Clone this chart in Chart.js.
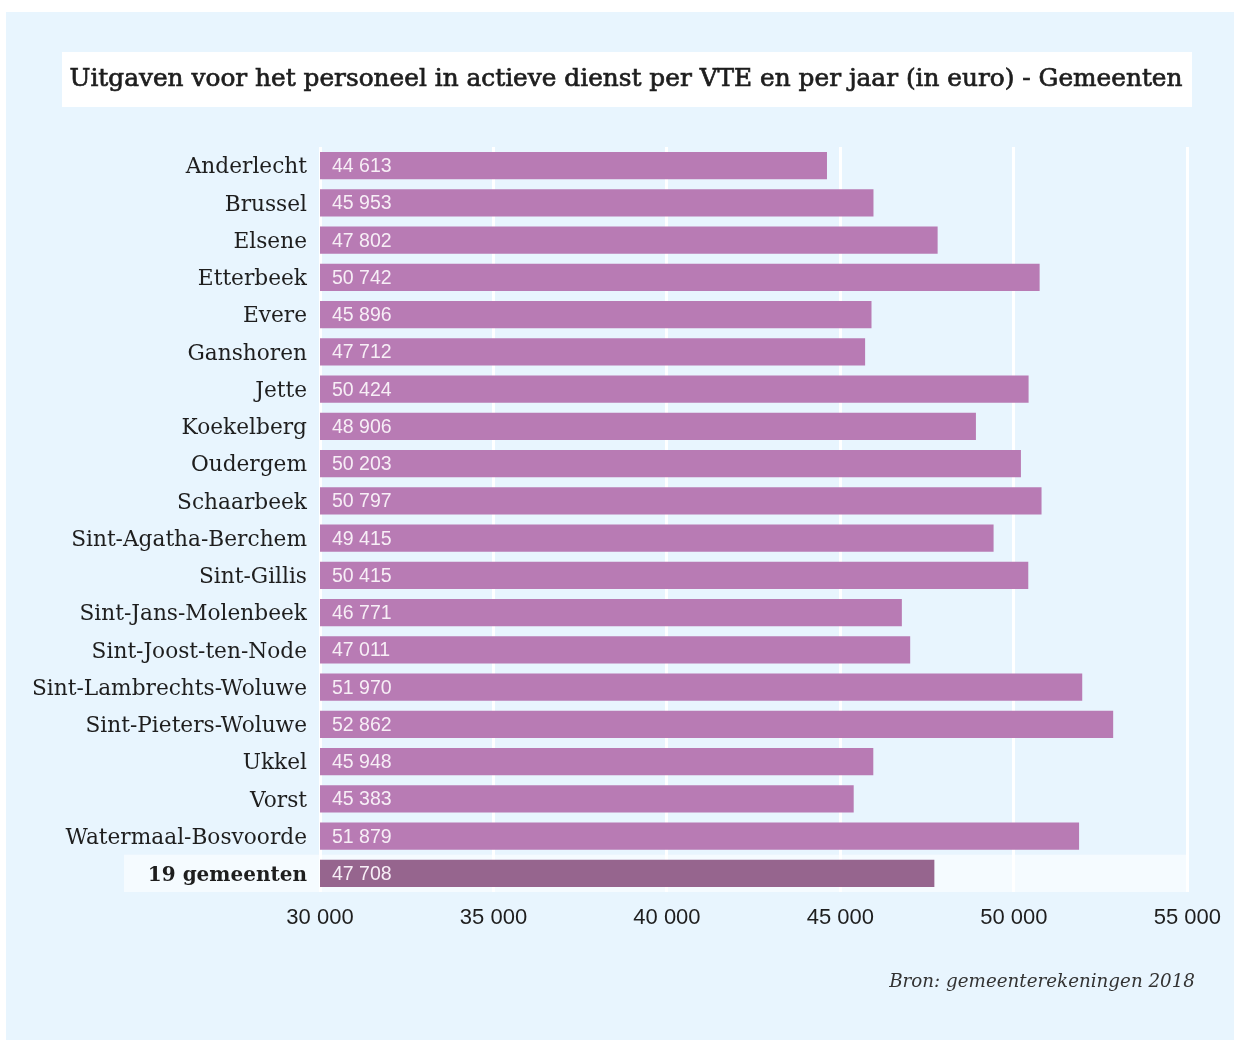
<!DOCTYPE html>
<html>
<head>
<meta charset="utf-8">
<script src="https://cdn.jsdelivr.net/npm/chart.js@4"></script>
<style>
  html, body { margin: 0; padding: 0; background: #ffffff; }
  canvas { display: block; }
</style>
</head>
<body>
<canvas id="chart" width="1234" height="1040"></canvas>
<script>
// Data
const categories = [
  "Anderlecht", "Brussel", "Elsene", "Etterbeek", "Evere", "Ganshoren",
  "Jette", "Koekelberg", "Oudergem", "Schaarbeek", "Sint-Agatha-Berchem",
  "Sint-Gillis", "Sint-Jans-Molenbeek", "Sint-Joost-ten-Node",
  "Sint-Lambrechts-Woluwe", "Sint-Pieters-Woluwe", "Ukkel", "Vorst",
  "Watermaal-Bosvoorde", "19 gemeenten"
];
// bar lengths as drawn in the picture (Ganshoren's bar is shorter than its label)
const values = [
  44613, 45953, 47802, 50742, 45896, 45712, 50424, 48906, 50203, 50797,
  49415, 50415, 46771, 47011, 51970, 52862, 45948, 45383, 51879, 47708
];
// numbers printed inside the bars
const printedValues = [
  "44 613", "45 953", "47 802", "50 742", "45 896", "47 712", "50 424",
  "48 906", "50 203", "50 797", "49 415", "50 415", "46 771", "47 011",
  "51 970", "52 862", "45 948", "45 383", "51 879", "47 708"
];
const xTicks = [30000, 35000, 40000, 45000, 50000, 55000];

const titleText = "Uitgaven voor het personeel in actieve dienst per VTE en per jaar (in euro) - Gemeenten";
const sourceText = "Bron: gemeenterekeningen 2018";

const BAR = "#b87bb4";
const BAR_TOTAL = "#96658e";
const PANEL = "#e8f5fe";
const TOTAL_ROW = "#f5fbff";
const TEXT = "#1e1e1e";

function fmt(v) {
  return String(v).replace(/\B(?=(\d{3})+(?!\d))/g, " ");
}

// Background, title box, highlighted total row, source and bar labels
const decorPlugin = {
  id: "decor",
  beforeDraw(chart) {
    const ctx = chart.ctx;
    const y = chart.scales.y;
    ctx.save();
    ctx.fillStyle = "#ffffff";
    ctx.fillRect(0, 0, chart.width, chart.height);
    ctx.fillStyle = PANEL;
    ctx.fillRect(6, 12, chart.width - 6, chart.height - 12);

    // title box
    ctx.fillStyle = "#ffffff";
    ctx.fillRect(62, 52, 1130, 55);
    ctx.fillStyle = TEXT;
    ctx.strokeStyle = TEXT;
    ctx.lineWidth = 0.7;
    ctx.font = '24.8px "DejaVu Serif"';
    ctx.textAlign = "center";
    ctx.textBaseline = "middle";
    ctx.fillText(titleText, 626, 80);
    ctx.strokeText(titleText, 626, 80);

    // total row highlight
    const last = categories.length - 1;
    const rowH = (chart.chartArea.bottom - chart.chartArea.top) / categories.length;
    const cy = y.getPixelForValue(last);
    ctx.fillStyle = TOTAL_ROW;
    ctx.fillRect(124, cy - rowH / 2, chart.chartArea.right - 124, rowH);

    // source
    ctx.fillStyle = "#333333";
    ctx.font = 'italic 18.3px "DejaVu Serif"';
    ctx.textAlign = "right";
    ctx.textBaseline = "alphabetic";
    ctx.fillText(sourceText, 1195, 987);
    ctx.restore();
  },
  afterDraw(chart) {
    const ctx = chart.ctx;
    const meta = chart.getDatasetMeta(0);
    const left = chart.chartArea.left;
    ctx.save();
    ctx.fillStyle = "#f7eef6";
    ctx.font = '19.5px "Liberation Sans"';
    ctx.textAlign = "left";
    ctx.textBaseline = "middle";
    meta.data.forEach((bar, i) => {
      ctx.fillText(printedValues[i], left + 12, bar.y + 1);
    });
    ctx.restore();
  }
};

const ctx = document.getElementById("chart").getContext("2d");
new Chart(ctx, {
  type: "bar",
  data: {
    labels: categories,
    datasets: [
      {
        data: values,
        backgroundColor: categories.map((c, i) =>
          i === categories.length - 1 ? BAR_TOTAL : BAR
        ),
        borderWidth: 0,
        barPercentage: 0.725,
        categoryPercentage: 1,
      },
    ],
  },
  options: {
    indexAxis: "y",
    responsive: false,
    devicePixelRatio: 1,
    animation: false,
    layout: {
      padding: { left: 0, right: 46, top: 147, bottom: 98 },
    },
    plugins: {
      legend: { display: false },
      title: { display: false },
      tooltip: { enabled: false },
    },
    scales: {
      x: {
        type: "linear",
        min: xTicks[0],
        max: xTicks[xTicks.length - 1],
        afterBuildTicks(scale) {
          scale.ticks = xTicks.map((v) => ({ value: v }));
        },
        afterFit(scale) {
          scale.height = 50;
        },
        grid: {
          color: "#ffffff",
          lineWidth: 3,
          drawTicks: false,
        },
        border: { display: false },
        ticks: {
          padding: 13,
          color: TEXT,
          font: { family: "Liberation Sans", size: 22 },
          maxRotation: 0,
          callback: (v) => fmt(v),
        },
      },
      y: {
        afterFit(scale) {
          scale.width = 320;
        },
        grid: { display: false, drawTicks: false },
        border: { display: false },
        ticks: {
          padding: 13,
          labelOffset: 2,
          color: TEXT,
          font: (c) =>
            c.index === categories.length - 1
              ? { family: "DejaVu Serif", size: 20, weight: "bold" }
              : { family: "DejaVu Serif", size: 21.7, weight: "normal" },
        },
      },
    },
  },
  plugins: [decorPlugin],
});
</script>
</body>
</html>
